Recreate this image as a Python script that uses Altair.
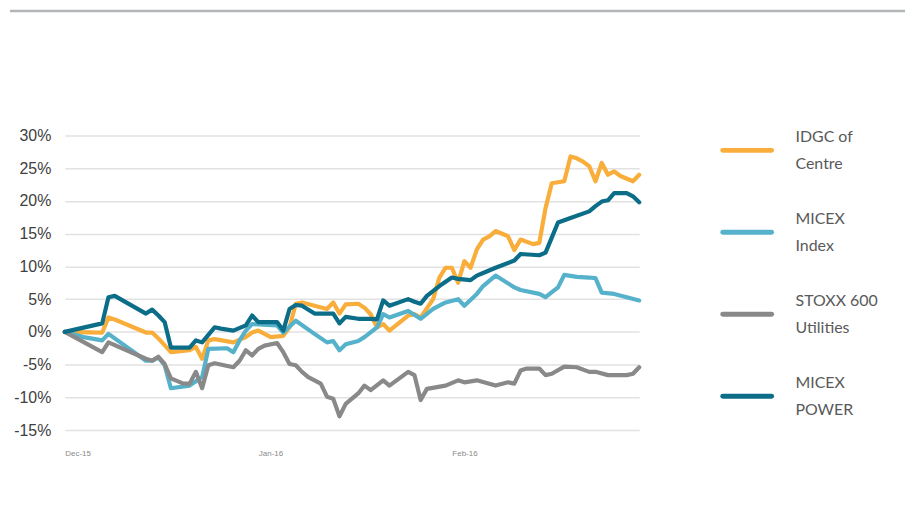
import altair as alt
import pandas as pd

# ---- data (values in %) ----
series_names = ["IDGC of Centre", "MICEX Index", "STOXX 600 Utilities", "MICEX POWER"]
legend_text = ["IDGC of|Centre", "MICEX|Index", "STOXX 600|Utilities", "MICEX|POWER"]
series_colors = ["#F9AE3B", "#56B1CB", "#898989", "#0B6D88"]

start_date = "2015-12-01"
tick_dates = [(2015, 12, 1), (2016, 1, 1), (2016, 2, 1)]
y_ticks = [-15, -10, -5, 0, 5, 10, 15, 20, 25, 30]

# day offsets since 1 Dec 2015 and values
idgc_days = [0, 6, 7, 8, 13, 14, 15, 17, 20, 21, 22, 23, 24, 27, 29, 30, 31, 33, 35, 36,
             37, 38, 42, 43, 44, 45, 47, 48, 49, 50, 51, 52, 55, 56, 57, 59, 60, 61, 62, 63,
             64, 65, 66, 67, 68, 69, 71, 72, 73, 75, 76, 77, 78, 80, 81, 82, 83, 84, 85, 86,
             87, 88, 89, 91, 92]
idgc_vals = [0.0, -0.1, 2.2, 1.9, -0.1, -0.1, -1.0, -3.1, -2.8, -2.3, -4.1, -1.3, -1.1, -1.6, -0.8, -0.1, 0.2, -0.8, -0.6, 0.7,
             4.3, 4.5, 3.5, 4.5, 2.8, 4.2, 4.3, 3.7, 2.7, 0.7, 1.2, 0.2, 2.5, 2.7, 2.2, 5.0, 8.3, 9.8, 9.8, 7.5,
             10.8, 9.8, 12.6, 14.1, 14.6, 15.4, 14.6, 12.5, 14.1, 13.4, 13.6, 18.9, 22.7, 23.0, 26.8, 26.5, 26.0, 25.3, 23.0, 25.8,
             24.0, 24.5, 23.8, 23.0, 24.0]

micex_days = [0, 3, 6, 7, 13, 14, 15, 16, 17, 20, 22, 23, 26, 27, 28, 29, 30, 34, 35, 37,
              40, 42, 43, 44, 45, 47, 48, 50, 51, 52, 55, 57, 59, 61, 63, 64, 66, 67, 68, 69,
              72, 73, 76, 77, 79, 80, 82, 84, 85, 86, 88, 90, 92]
micex_vals = [0.0, -0.8, -1.3, -0.3, -4.4, -4.4, -3.9, -5.1, -8.6, -8.2, -6.9, -2.6, -2.5, -3.1, -1.3, 0.2, 1.2, 1.0, -0.1, 1.7,
              -0.3, -1.6, -1.4, -2.8, -1.9, -1.4, -0.8, 0.7, 2.7, 2.2, 3.2, 2.0, 3.5, 4.5, 5.0, 4.0, 5.8, 7.0, 7.8, 8.6,
              6.8, 6.4, 5.8, 5.3, 6.8, 8.7, 8.4, 8.3, 8.2, 6.0, 5.8, 5.3, 4.8]

stoxx_days = [0, 6, 7, 13, 14, 15, 16, 17, 19, 20, 21, 22, 23, 24, 27, 28, 29, 30, 31, 32,
              34, 35, 36, 37, 38, 39, 41, 42, 43, 44, 45, 47, 48, 49, 51, 52, 55, 56, 57, 58,
              61, 63, 64, 66, 69, 71, 72, 73, 74, 76, 77, 78, 80, 82, 84, 85, 87, 90, 91, 92]
stoxx_vals = [0.0, -3.1, -1.6, -4.1, -4.4, -3.8, -4.9, -7.1, -7.9, -7.9, -6.1, -8.6, -5.1, -4.8, -5.4, -4.4, -2.8, -3.6, -2.6, -2.1,
              -1.7, -3.1, -4.9, -5.1, -6.1, -6.9, -7.9, -9.9, -10.2, -12.9, -11.0, -9.4, -8.2, -8.9, -7.4, -8.2, -6.1, -6.6, -10.4, -8.7,
              -8.2, -7.4, -7.7, -7.4, -8.2, -7.7, -7.9, -5.9, -5.6, -5.6, -6.6, -6.4, -5.3, -5.4, -6.1, -6.1, -6.6, -6.6, -6.4, -5.4]

power_days = [0, 6, 7, 8, 13, 14, 15, 16, 17, 20, 21, 22, 24, 25, 27, 29, 30, 31, 34, 35,
              36, 37, 38, 40, 43, 44, 45, 47, 49, 50, 51, 52, 55, 56, 57, 58, 60, 62, 63, 65,
              66, 67, 69, 72, 73, 76, 77, 78, 79, 81, 84, 85, 86, 87, 88, 90, 91, 92]
power_vals = [0.0, 1.3, 5.3, 5.5, 2.8, 3.4, 2.5, 1.5, -2.4, -2.4, -1.3, -1.6, 0.7, 0.5, 0.2, 1.0, 2.5, 1.5, 1.5, 0.2,
              3.5, 4.1, 4.0, 2.8, 2.8, 1.3, 2.3, 2.0, 2.0, 1.9, 4.8, 4.0, 5.0, 4.6, 4.3, 5.5, 7.0, 8.3, 8.1, 7.9,
              8.6, 9.0, 9.8, 10.9, 11.9, 11.7, 12.1, 14.4, 16.7, 17.4, 18.4, 19.2, 19.9, 20.1, 21.2, 21.2, 20.7, 19.8]

# ---- build tables ----
frames = []
for name, days, vals in zip(series_names,
                            [idgc_days, micex_days, stoxx_days, power_days],
                            [idgc_vals, micex_vals, stoxx_vals, power_vals]):
    dates = (pd.Timestamp(start_date) + pd.to_timedelta(days, unit="D")).strftime("%Y-%m-%d")
    frames.append(pd.DataFrame({"date": dates, "value": vals, "series": name}))
df = pd.concat(frames, ignore_index=True)

legend_df = pd.DataFrame({"series": series_names, "label": legend_text})

color_scale = alt.Scale(domain=series_names, range=series_colors)

x_domain = [alt.DateTime(year=2015, month=12, date=1, utc=True),
            alt.DateTime(year=2016, month=3, date=2, utc=True)]
x_values = [alt.DateTime(year=y, month=m, date=d, utc=True) for (y, m, d) in tick_dates]

lines = alt.Chart(df).mark_line(strokeWidth=4.2, strokeJoin="round", strokeCap="round").encode(
    x=alt.X("date:T", scale=alt.Scale(type="utc", domain=x_domain),
            axis=alt.Axis(values=x_values, format="%b-%y", title=None, grid=False,
                          ticks=False, domain=False, labelAlign="left", labelPadding=19,
                          labelFontSize=8, labelFont="Liberation Sans", labelColor="#8a8a8a")),
    y=alt.Y("value:Q", scale=alt.Scale(domain=[-15, 30], nice=False),
            axis=alt.Axis(values=y_ticks, labelExpr="datum.value + '%'", title=None,
                          grid=True, gridColor="#e2e2e2", gridWidth=1.5,
                          ticks=False, domain=False, labelPadding=14,
                          labelFontSize=16, labelFont="Liberation Sans", labelColor="#404040")),
    color=alt.Color("series:N", scale=color_scale, legend=None),
)

legend_pos = alt.Y("series:N", sort=series_names, axis=None,
                   scale=alt.Scale(type="point", range=[15, 262], padding=0))

legend_rules = alt.Chart(legend_df).mark_rule(strokeWidth=5, strokeCap="round").encode(
    y=legend_pos,
    x=alt.value(661),
    x2=alt.value(710),
    color=alt.Color("series:N", scale=color_scale, legend=None),
)

legend_labels = alt.Chart(legend_df).mark_text(
    align="left", baseline="middle", lineBreak="|", lineHeight=27, dy=-13.5,
    font="Lato", fontSize=16, color="#595959"
).encode(
    y=legend_pos,
    x=alt.value(734),
    text="label:N",
)

top_border = alt.Chart(legend_df.head(1)).mark_rule(strokeWidth=2.5, color="#b3b6b8").encode(
    x=alt.value(-55), x2=alt.value(844), y=alt.value(-125)
)

chart = alt.layer(lines, legend_rules, legend_labels, top_border).resolve_scale(
    y="independent"
).properties(
    width=577, height=296, padding=0
).configure_view(stroke=None)

chart.save("out.html", embed_options={"renderer": "svg", "actions": False})
